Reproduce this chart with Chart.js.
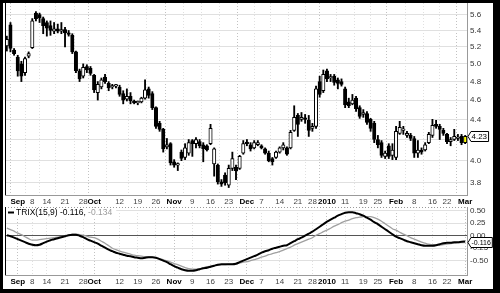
<!DOCTYPE html>
<html>
<head>
<meta charset="utf-8">
<script src="https://cdn.jsdelivr.net/npm/chart.js@4.4.1/dist/chart.umd.min.js"></script>
<style>
  html, body { margin: 0; padding: 0; background: #fff; }
  #wrap { position: relative; width: 500px; height: 293px; overflow: hidden; background: #fff; }
  #priceChart { position: absolute; left: 0; top: 0; }
  #trixChart { position: absolute; left: 0; top: 207px; }
  #frame { position: absolute; left: 0; top: 0; width: 500px; height: 293px; box-sizing: border-box;
           border-style: solid; border-color: #000; border-width: 3px 7px 4px 3px; pointer-events: none; }
</style>
</head>
<body>
<div id="wrap">
  <canvas id="priceChart" width="500" height="207"></canvas>
  <canvas id="trixChart" width="500" height="86"></canvas>
  <div id="frame"></div>
</div>
<script>
// trading days shown (Aug 27 2009 .. Mar 1 2010)
var firstDay = '2009-08-27';
var lastDay = '2010-03-01';
var holidays = ['2009-09-07', '2009-11-26', '2009-12-25', '2010-01-01', '2010-01-18', '2010-02-15'];

// x axis labels
var tickDates = ['2009-09-01', '2009-09-08', '2009-09-14', '2009-09-21', '2009-09-28', '2009-10-01',
    '2009-10-12', '2009-10-19', '2009-10-26', '2009-11-02', '2009-11-09', '2009-11-16', '2009-11-23',
    '2009-12-01', '2009-12-07', '2009-12-14', '2009-12-21', '2009-12-28', '2010-01-04', '2010-01-11',
    '2010-01-19', '2010-01-25', '2010-02-01', '2010-02-08', '2010-02-16', '2010-02-22', '2010-03-01'];
var tickLabels = ['Sep', '8', '14', '21', '28', 'Oct', '12', '19', '26', 'Nov', '9', '16', '23',
    'Dec', '7', '14', '21', '28', '2010', '11', '19', '25', 'Feb', '8', '16', '22', 'Mar'];

// price axis (log) and TRIX axis ticks
var priceTicks = [3.8, 4.0, 4.2, 4.4, 4.6, 4.8, 5.0, 5.2, 5.4, 5.6];
var trixTicks = [0.5, 0.25, 0, -0.25, -0.5];

// daily candles
var opens = [5.21, 5.47, 5.16, 5.08, 5.00, 4.90, 5.09, 5.19, 5.62, 5.60,
    5.55, 5.50, 5.46, 5.39, 5.42, 5.39, 5.41, 5.37, 5.34, 5.14,
    4.92, 4.86, 4.97, 4.95, 4.87, 4.68, 4.74, 4.85, 4.78, 4.74,
    4.75, 4.74, 4.67, 4.61, 4.64, 4.58, 4.57, 4.58, 4.62, 4.72,
    4.67, 4.52, 4.36, 4.30, 4.13, 4.16, 3.99, 3.96, 4.08, 4.03,
    4.07, 4.19, 4.16, 4.18, 4.15, 4.14, 4.16, 3.97, 3.96, 3.81,
    3.87, 3.78, 3.93, 3.94, 3.93, 4.07, 4.17, 4.15, 4.12, 4.15,
    4.14, 4.11, 4.07, 4.02, 4.03, 4.08, 4.12, 4.12, 4.12, 4.29,
    4.44, 4.40, 4.41, 4.39, 4.31, 4.33, 4.80, 4.70, 4.92, 4.84,
    4.86, 4.82, 4.80, 4.72, 4.58, 4.56, 4.62, 4.52, 4.45, 4.46,
    4.40, 4.36, 4.20, 4.17, 4.04, 4.14, 4.05, 4.03, 4.26, 4.29,
    4.24, 4.24, 4.21, 4.07, 4.10, 4.10, 4.17, 4.24, 4.35, 4.33,
    4.29, 4.25, 4.18, 4.20, 4.21, 4.23, 4.17];
var highs = [5.33, 5.50, 5.18, 5.10, 5.03, 5.08, 5.14, 5.55, 5.64, 5.62,
    5.57, 5.52, 5.52, 5.50, 5.48, 5.50, 5.44, 5.40, 5.36, 5.15,
    4.94, 5.00, 4.99, 4.97, 4.88, 4.80, 4.84, 4.88, 4.80, 4.77,
    4.77, 4.76, 4.70, 4.72, 4.68, 4.60, 4.59, 4.63, 4.82, 4.74,
    4.69, 4.53, 4.38, 4.31, 4.21, 4.17, 4.01, 3.98, 4.10, 4.16,
    4.20, 4.20, 4.22, 4.20, 4.17, 4.15, 4.35, 4.12, 3.97, 3.83,
    3.89, 3.96, 4.08, 3.96, 4.05, 4.19, 4.20, 4.17, 4.19, 4.19,
    4.15, 4.12, 4.09, 4.03, 4.09, 4.13, 4.17, 4.13, 4.29, 4.54,
    4.46, 4.47, 4.45, 4.44, 4.36, 4.75, 4.86, 4.93, 4.94, 4.88,
    4.88, 4.84, 4.83, 4.74, 4.62, 4.66, 4.64, 4.54, 4.50, 4.48,
    4.41, 4.38, 4.24, 4.19, 4.09, 4.16, 4.16, 4.33, 4.38, 4.33,
    4.28, 4.26, 4.23, 4.19, 4.12, 4.17, 4.27, 4.40, 4.39, 4.35,
    4.31, 4.26, 4.22, 4.30, 4.25, 4.25, 4.24];
var lows = [5.15, 5.14, 5.10, 4.86, 4.80, 4.87, 5.07, 5.18, 5.52, 5.50,
    5.36, 5.33, 5.34, 5.36, 5.37, 5.36, 5.20, 5.33, 5.12, 4.90,
    4.80, 4.84, 4.90, 4.87, 4.68, 4.60, 4.72, 4.78, 4.70, 4.72,
    4.73, 4.64, 4.56, 4.59, 4.56, 4.56, 4.55, 4.57, 4.61, 4.62,
    4.50, 4.31, 4.28, 4.08, 4.11, 3.96, 3.94, 3.91, 4.00, 4.01,
    4.05, 4.04, 4.12, 4.12, 3.99, 4.09, 4.15, 3.86, 3.79, 3.77,
    3.78, 3.76, 3.91, 3.83, 3.92, 4.06, 4.14, 4.09, 4.11, 4.14,
    4.11, 4.06, 3.99, 3.96, 4.02, 4.07, 4.10, 4.05, 4.11, 4.28,
    4.23, 4.38, 4.36, 4.23, 4.28, 4.31, 4.63, 4.68, 4.80, 4.80,
    4.76, 4.72, 4.75, 4.52, 4.52, 4.55, 4.48, 4.41, 4.42, 4.35,
    4.28, 4.17, 4.12, 4.03, 4.02, 4.02, 4.01, 4.01, 4.25, 4.25,
    4.22, 4.19, 4.03, 4.03, 4.06, 4.09, 4.16, 4.22, 4.31, 4.20,
    4.24, 4.16, 4.14, 4.19, 4.19, 4.15, 4.16];
var closes = [5.29, 5.18, 5.12, 4.92, 4.86, 5.06, 5.12, 5.52, 5.55, 5.56,
    5.46, 5.43, 5.40, 5.42, 5.39, 5.41, 5.37, 5.35, 5.14, 4.92,
    4.83, 4.96, 4.93, 4.89, 4.71, 4.77, 4.82, 4.80, 4.73, 4.75,
    4.76, 4.66, 4.60, 4.64, 4.59, 4.57, 4.58, 4.62, 4.71, 4.65,
    4.52, 4.33, 4.30, 4.11, 4.15, 3.98, 3.96, 3.96, 4.02, 4.12,
    4.17, 4.16, 4.20, 4.14, 4.11, 4.10, 4.31, 4.11, 3.81, 3.79,
    3.80, 3.93, 4.02, 3.91, 4.04, 4.16, 4.16, 4.11, 4.17, 4.17,
    4.12, 4.07, 4.00, 3.99, 4.08, 4.12, 4.15, 4.06, 4.27, 4.42,
    4.35, 4.42, 4.40, 4.29, 4.33, 4.72, 4.66, 4.88, 4.83, 4.85,
    4.79, 4.78, 4.77, 4.55, 4.54, 4.60, 4.51, 4.43, 4.47, 4.37,
    4.31, 4.20, 4.15, 4.05, 4.07, 4.04, 4.10, 4.28, 4.32, 4.30,
    4.26, 4.21, 4.07, 4.10, 4.08, 4.15, 4.25, 4.34, 4.33, 4.30,
    4.26, 4.18, 4.20, 4.23, 4.22, 4.17, 4.23];

// TRIX(15,9) and its signal line
var trixValues = [0.01, -0.01, -0.04, -0.07, -0.10, -0.13, -0.16, -0.18, -0.19, -0.18,
    -0.15, -0.12, -0.09, -0.07, -0.05, -0.03, -0.01, 0.01, 0.02, 0.02,
    0.00, -0.03, -0.07, -0.10, -0.13, -0.16, -0.20, -0.24, -0.28, -0.31,
    -0.34, -0.36, -0.38, -0.40, -0.41, -0.43, -0.44, -0.45, -0.44, -0.43,
    -0.43, -0.44, -0.47, -0.50, -0.53, -0.57, -0.61, -0.64, -0.67, -0.69,
    -0.70, -0.70, -0.69, -0.67, -0.65, -0.64, -0.62, -0.60, -0.58, -0.57,
    -0.57, -0.57, -0.57, -0.56, -0.53, -0.50, -0.47, -0.44, -0.41, -0.38,
    -0.34, -0.31, -0.29, -0.26, -0.24, -0.22, -0.20, -0.19, -0.15, -0.11,
    -0.07, -0.04, 0.00, 0.04, 0.08, 0.13, 0.18, 0.23, 0.28, 0.32,
    0.36, 0.40, 0.43, 0.46, 0.47, 0.47, 0.45, 0.43, 0.40, 0.36,
    0.32, 0.27, 0.23, 0.18, 0.13, 0.08, 0.03, -0.02, -0.05, -0.08,
    -0.11, -0.13, -0.15, -0.17, -0.19, -0.20, -0.20, -0.20, -0.19, -0.17,
    -0.15, -0.14, -0.14, -0.13, -0.13, -0.12, -0.116];
var trixSignal = [0.15, 0.12, 0.09, 0.05, 0.02, -0.02, -0.06, -0.09, -0.09, -0.08,
    -0.07, -0.06, -0.05, -0.04, -0.03, -0.02, -0.01, 0.01, 0.03, 0.03,
    0.02, 0.01, -0.01, -0.03, -0.04, -0.07, -0.11, -0.15, -0.20, -0.25,
    -0.28, -0.31, -0.33, -0.35, -0.37, -0.39, -0.40, -0.41, -0.42, -0.42,
    -0.43, -0.44, -0.46, -0.48, -0.50, -0.53, -0.56, -0.58, -0.61, -0.64,
    -0.66, -0.67, -0.67, -0.66, -0.64, -0.62, -0.61, -0.60, -0.59, -0.58,
    -0.58, -0.57, -0.57, -0.56, -0.55, -0.53, -0.52, -0.50, -0.48, -0.46,
    -0.43, -0.41, -0.38, -0.36, -0.34, -0.32, -0.29, -0.26, -0.23, -0.19,
    -0.16, -0.13, -0.10, -0.07, -0.04, 0.01, 0.04, 0.08, 0.11, 0.15,
    0.19, 0.22, 0.26, 0.29, 0.31, 0.34, 0.36, 0.37, 0.38, 0.38,
    0.38, 0.36, 0.33, 0.29, 0.24, 0.19, 0.14, 0.11, 0.07, 0.03,
    0.00, -0.04, -0.07, -0.10, -0.13, -0.15, -0.17, -0.18, -0.19, -0.19,
    -0.18, -0.17, -0.16, -0.15, -0.14, -0.14, -0.134];

var fontFamily = '"Liberation Sans", Arial, sans-serif';

// build list of trading days
function tradingDays(from, to) {
    var out = [];
    var d = new Date(from + 'T12:00:00Z');
    var end = new Date(to + 'T12:00:00Z');
    while (d <= end) {
        var s = d.toISOString().slice(0, 10);
        var wd = d.getUTCDay();
        if (wd !== 0 && wd !== 6 && holidays.indexOf(s) < 0) out.push(s);
        d.setUTCDate(d.getUTCDate() + 1);
    }
    return out;
}

var dates = tradingDays(firstDay, lastDay);
var tickIndex = tickDates.map(function(d) { return dates.indexOf(d); });

function isMonthLabel(i) {
    return /[A-Za-z]/.test(tickLabels[i]) || tickLabels[i].length === 4;
}

var lastIdx = closes.length - 1;
var bodyColors = closes.map(function(c, i) {
    if (i === lastIdx) return '#ffff00';
    return c >= opens[i] ? '#ffffff' : '#000000';
});

// shared x axis setup
function xAxis() {
    return {
        type: 'linear',
        min: -0.5,
        max: dates.length - 0.5,
        offset: false,
        afterBuildTicks: function(s) {
            s.ticks = tickIndex.map(function(v) { return { value: v }; });
        },
        afterFit: function(s) {
            s.height = 12;
            s.paddingLeft = 0;
            s.paddingRight = 0;
        },
        grid: {
            drawTicks: false,
            color: function(ctx) {
                return ctx.index !== undefined && isMonthLabel(ctx.index) ? '#c2c2c2' : '#e0e0e0';
            }
        },
        border: { display: true, color: '#999', dash: [1, 2] },
        ticks: {
            autoSkip: false,
            maxRotation: 0,
            minRotation: 0,
            padding: 2,
            font: function(ctx) {
                return { family: fontFamily, size: 8, weight: isMonthLabel(ctx.index) ? 'bold' : 'normal' };
            },
            color: function(ctx) {
                return isMonthLabel(ctx.index) ? '#000' : '#444';
            },
            callback: function(v, i) { return tickLabels[i]; }
        }
    };
}

// little value tag at the right axis
function drawTag(ctx, x, y, text, size) {
    ctx.font = size + 'px ' + fontFamily;
    var w = ctx.measureText(text).width + 5;
    var h = 10;
    ctx.beginPath();
    ctx.moveTo(x, y);
    ctx.lineTo(x + 3, y - h / 2);
    ctx.lineTo(x + w, y - h / 2);
    ctx.lineTo(x + w, y + h / 2);
    ctx.lineTo(x + 3, y + h / 2);
    ctx.closePath();
    ctx.fillStyle = '#fff';
    ctx.fill();
    ctx.strokeStyle = '#000';
    ctx.lineWidth = 1;
    ctx.stroke();
    ctx.fillStyle = '#000';
    ctx.textBaseline = 'middle';
    ctx.textAlign = 'left';
    ctx.fillText(text, x + 3.5, y + 0.5);
}

var pricePlugin = {
    id: 'priceDecor',
    afterDraw: function(chart) {
        var ctx = chart.ctx, a = chart.chartArea;
        ctx.save();
        ctx.strokeStyle = '#000';
        ctx.lineWidth = 1;
        ctx.beginPath();
        ctx.moveTo(a.left + 0.5, a.top);
        ctx.lineTo(a.left + 0.5, a.bottom);
        ctx.stroke();
        var y = chart.scales.y.getPixelForValue(closes[lastIdx]);
        drawTag(ctx, a.right + 1, Math.round(y) + 0.5, closes[lastIdx].toFixed(2), 8);
        ctx.restore();
    }
};

var trixPlugin = {
    id: 'trixDecor',
    afterDraw: function(chart) {
        var ctx = chart.ctx, a = chart.chartArea;
        ctx.save();
        // top dotted edge and left edge
        ctx.strokeStyle = '#999';
        ctx.lineWidth = 1;
        ctx.setLineDash([1, 2]);
        ctx.beginPath();
        ctx.moveTo(a.left, a.top + 0.5);
        ctx.lineTo(a.right, a.top + 0.5);
        ctx.stroke();
        ctx.setLineDash([]);
        ctx.strokeStyle = '#000';
        ctx.beginPath();
        ctx.moveTo(a.left + 0.5, a.top);
        ctx.lineTo(a.left + 0.5, a.bottom);
        ctx.stroke();

        // legend
        var t1 = 'TRIX(15,9) ' + trixValues[lastIdx].toFixed(3) + ', ';
        var t2 = trixSignal[lastIdx].toFixed(3);
        ctx.font = '8.5px ' + fontFamily;
        var w1 = ctx.measureText(t1).width, w2 = ctx.measureText(t2).width;
        var ly = a.top + 5.5;
        ctx.fillStyle = '#fff';
        ctx.fillRect(a.left + 1, a.top + 1, w1 + w2 + 14, 9);
        ctx.strokeStyle = '#000';
        ctx.lineWidth = 2;
        ctx.beginPath();
        ctx.moveTo(a.left + 3, ly);
        ctx.lineTo(a.left + 9, ly);
        ctx.stroke();
        ctx.textBaseline = 'middle';
        ctx.textAlign = 'left';
        ctx.fillStyle = '#000';
        ctx.fillText(t1, a.left + 11, ly + 0.5);
        ctx.fillStyle = '#999';
        ctx.fillText(t2, a.left + 11 + w1, ly + 0.5);

        var y = chart.scales.y.getPixelForValue(trixValues[lastIdx]);
        drawTag(ctx, a.right + 1, Math.round(y) + 0.5, trixValues[lastIdx].toFixed(3), 7);
        ctx.restore();
    }
};

new Chart(document.getElementById('priceChart'), {
    type: 'bar',
    data: {
        datasets: [
            {
                label: 'Range',
                data: dates.map(function(d, i) { return { x: i, y: [lows[i], highs[i]] }; }),
                backgroundColor: '#000',
                barThickness: 1.2,
                grouped: false,
                order: 2
            },
            {
                label: 'Body',
                data: dates.map(function(d, i) {
                    return { x: i, y: [Math.min(opens[i], closes[i]), Math.max(opens[i], closes[i])] };
                }),
                backgroundColor: bodyColors,
                borderColor: '#000',
                borderWidth: 1,
                borderSkipped: false,
                barThickness: 3.4,
                minBarLength: 1.5,
                grouped: false,
                order: 1
            }
        ]
    },
    options: {
        responsive: false,
        animation: false,
        devicePixelRatio: 1,
        layout: { padding: { left: 5, right: 7, top: 3, bottom: 0 } },
        plugins: { legend: { display: false }, tooltip: { enabled: false } },
        scales: {
            x: xAxis(),
            y: {
                type: 'logarithmic',
                position: 'right',
                min: 3.696,
                max: 5.753,
                afterBuildTicks: function(s) {
                    s.ticks = priceTicks.map(function(v) { return { value: v }; });
                },
                afterFit: function(s) {
                    s.width = 26;
                    s.paddingTop = 0;
                    s.paddingBottom = 0;
                },
                grid: { color: '#e0e0e0', drawTicks: false },
                border: { display: true, color: '#999' },
                ticks: {
                    padding: 3,
                    color: '#333',
                    font: { family: fontFamily, size: 8 },
                    callback: function(v) { return Number(v).toFixed(1); }
                }
            }
        }
    },
    plugins: [pricePlugin]
});

new Chart(document.getElementById('trixChart'), {
    type: 'line',
    data: {
        datasets: [
            {
                label: 'Signal',
                data: trixSignal.map(function(v, i) { return { x: i, y: v }; }),
                borderColor: '#a0a0a0',
                borderWidth: 1.3,
                pointRadius: 0,
                cubicInterpolationMode: 'monotone',
                order: 2
            },
            {
                label: 'TRIX(15,9)',
                data: trixValues.map(function(v, i) { return { x: i, y: v }; }),
                borderColor: '#000',
                borderWidth: 2,
                pointRadius: 0,
                cubicInterpolationMode: 'monotone',
                order: 1
            }
        ]
    },
    options: {
        responsive: false,
        animation: false,
        devicePixelRatio: 1,
        layout: { padding: { left: 5, right: 7, top: 0, bottom: 6 } },
        plugins: { legend: { display: false }, tooltip: { enabled: false } },
        scales: {
            x: xAxis(),
            y: {
                type: 'linear',
                position: 'right',
                min: -0.786,
                max: 0.574,
                afterBuildTicks: function(s) {
                    s.ticks = trixTicks.map(function(v) { return { value: v }; });
                },
                afterFit: function(s) {
                    s.width = 26;
                    s.paddingTop = 0;
                    s.paddingBottom = 0;
                },
                grid: {
                    drawTicks: false,
                    color: function(ctx) {
                        return ctx.tick && ctx.tick.value === 0 ? '#555' : '#e0e0e0';
                    }
                },
                border: { display: true, color: '#999' },
                ticks: {
                    padding: 3,
                    color: '#333',
                    font: { family: fontFamily, size: 8 },
                    callback: function(v) { return Number(v).toFixed(2); }
                }
            }
        }
    },
    plugins: [trixPlugin]
});
</script>
</body>
</html>
